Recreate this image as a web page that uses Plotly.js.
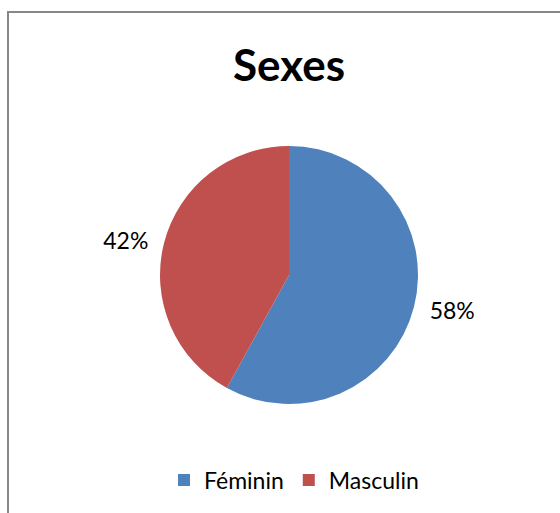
<!DOCTYPE html>
<html><head><meta charset="utf-8">
<script src="https://cdn.plot.ly/plotly-3.0.1.min.js"></script>
<style>
html,body{margin:0;padding:0;background:#fff;overflow:hidden;}
#frame{position:absolute;left:7px;top:11px;width:600px;height:600px;border:2px solid #888;box-sizing:border-box;}
#chart{position:absolute;left:0;top:0;width:560px;height:513px;}
</style></head>
<body>
<div id="frame"></div>
<div id="chart"></div>
<script>
const categories = ["Féminin", "Masculin"];
const shares = [58, 42];
const colors = ["#4F81BD", "#C0504D"];
const titleText = "Sexes";

const fontFam = "Lato, 'Open Sans', sans-serif";

// ghost pie (slightly larger, transparent) that only carries the outside labels
const labelTrace = {
  type: "pie",
  labels: categories,
  values: shares,
  sort: false,
  direction: "clockwise",
  rotation: 0,
  marker: {colors: ["rgba(0,0,0,0)", "rgba(0,0,0,0)"], line: {width: 0}},
  texttemplate: "%{percent:.0%}",
  textposition: "outside",
  outsidetextfont: {family: fontFam, size: 23, color: "#000"},
  domain: {x: [151/560, 427/560], y: [1 - 413/513, 1 - 137/513]},
  showlegend: false,
  hoverinfo: "none"
};

const pieTrace = {
  type: "pie",
  labels: categories,
  values: shares,
  sort: false,
  direction: "clockwise",
  rotation: 0,
  marker: {colors: colors, line: {color: "#fff", width: 0}},
  textinfo: "none",
  domain: {x: [160/560, 418/560], y: [1 - 404/513, 1 - 146/513]},
  hoverinfo: "none"
};

Plotly.newPlot("chart", [labelTrace, pieTrace], {
  width: 560, height: 513,
  margin: {l: 0, r: 0, t: 0, b: 0},
  paper_bgcolor: "rgba(0,0,0,0)",
  title: {text: "<b>" + titleText + "</b>", font: {family: fontFam, size: 44, color: "#000"}, x: 289/560, xanchor: "center", y: 1 - 66/513, yanchor: "middle"},
  showlegend: true,
  legend: {orientation: "h", x: 294/560, xanchor: "center", y: 1 - 480/513, yanchor: "middle",
           font: {family: fontFam, size: 23, color: "#000"}, itemwidth: 30, tracegroupgap: 0}
}, {staticPlot: true});
</script>
</body></html>
